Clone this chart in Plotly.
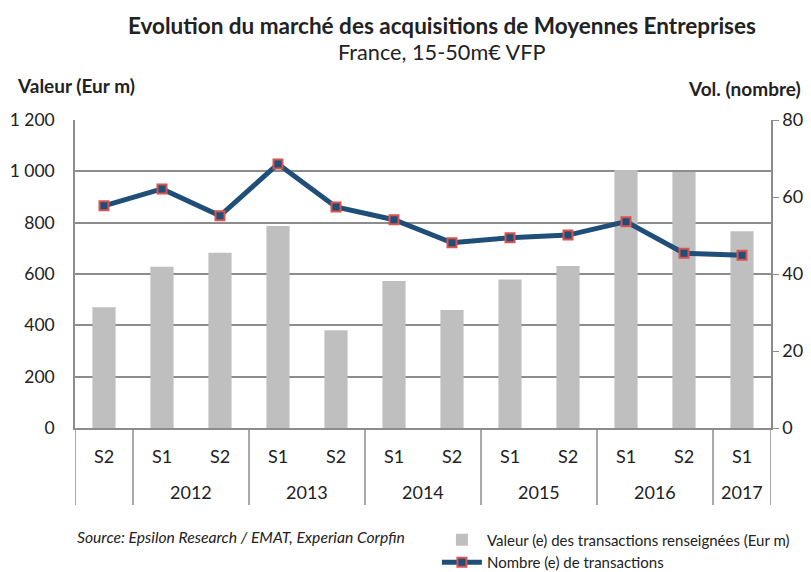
import plotly.graph_objects as go

years = ["", "2012", "2012", "2013", "2013", "2014", "2014", "2015", "2015", "2016", "2016", "2017"]
semesters = ["S2", "S1", "S2", "S1", "S2", "S1", "S2", "S1", "S2", "S1", "S2", "S1"]
valeur = [470, 628, 683, 787, 381, 573, 460, 579, 631, 1005, 997, 767]
nombre = [57.7, 62.1, 55.1, 68.6, 57.4, 54.1, 48.1, 49.4, 50.1, 53.6, 45.4, 44.9]

FONT = "Lato, Calibri, sans-serif"
TXT = "#222"
GRID = "#8c8c8c"
xs = list(range(len(semesters)))

# consecutive runs of the same year -> group label + dividers
groups = []
for i, yr in enumerate(years):
    if groups and groups[-1][0] == yr:
        groups[-1][2] = i
    else:
        groups.append([yr, i, i])

fig = go.Figure()
fig.add_trace(go.Bar(
    x=xs, y=valeur,
    name="Valeur (e) des transactions renseignées (Eur m)",
    marker=dict(color="#BFBFBF", line=dict(width=0)),
))
fig.add_trace(go.Scatter(
    x=xs, y=nombre, yaxis="y2", mode="lines+markers",
    name="Nombre (e) de transactions",
    line=dict(color="#1F4E79", width=5),
    marker=dict(symbol="square", size=9, color="#1F4E79",
                line=dict(color="#D9534F", width=2)),
))

fig.update_layout(
    width=803, height=564,
    margin=dict(l=67, r=40, t=112, b=144),
    paper_bgcolor="white", plot_bgcolor="white",
    font=dict(family=FONT, size=16, color=TXT),
    separators=", ",
    bargap=0.6,
    showlegend=True,
    legend=dict(x=0.52, xanchor="left", yref="container", y=0.086, yanchor="top",
                font=dict(size=15, color=TXT), tracegroupgap=0, itemwidth=40,
                bgcolor="rgba(0,0,0,0)"),
    xaxis=dict(
        range=[-0.5, len(xs) - 0.5], tickvals=xs, ticktext=semesters,
        automargin=False, showline=True, linecolor=GRID, linewidth=1.5,
        ticks="", showgrid=False, zeroline=False, ticklabelstandoff=12,
        tickfont=dict(size=18, color=TXT),
    ),
    yaxis=dict(
        range=[0, 1200], dtick=200, tickformat=",d", automargin=False,
        showgrid=True, gridcolor=GRID, gridwidth=1.5,
        showline=True, linecolor=GRID, linewidth=1.5,
        ticks="", ticklabelstandoff=15, zeroline=False,
        tickfont=dict(size=17.5, color=TXT),
    ),
    yaxis2=dict(
        range=[0, 80], dtick=20, overlaying="y", side="right", automargin=False,
        showgrid=False, zeroline=False,
        showline=True, linecolor=GRID, linewidth=1.5,
        ticks="outside", ticklen=6, tickcolor=GRID,
        tickfont=dict(size=18, color=TXT),
    ),
)

# year labels and group dividers under the axis
for yr, a, b in groups:
    if yr:
        fig.add_annotation(text=yr, xref="x", yref="paper", x=(a + b) / 2, y=-0.208,
                           yanchor="middle", showarrow=False, font=dict(size=18, color=TXT))
    fig.add_shape(type="line", xref="x", yref="paper", x0=a - 0.5, x1=a - 0.5, y0=0, y1=-0.25,
                  line=dict(color=GRID, width=1.5))
fig.add_shape(type="line", xref="x", yref="paper", x0=len(xs) - 0.5, x1=len(xs) - 0.5,
              y0=0, y1=-0.25, line=dict(color=GRID, width=1.5))

fig.add_annotation(text="<b>Evolution du marché des acquisitions de Moyennes Entreprises</b>",
                   xref="paper", yref="paper", x=0.527, y=1.0, yshift=95, yanchor="middle",
                   showarrow=False, font=dict(size=22.5, color=TXT))
fig.add_annotation(text="France, 15-50m€ VFP", xref="paper", yref="paper",
                   x=0.527, y=1.0, yshift=68, yanchor="middle",
                   showarrow=False, font=dict(size=21.7, color=TXT))
fig.add_annotation(text="<b>Valeur (Eur m)</b>", xref="paper", yref="paper",
                   x=0, xshift=-60, xanchor="left", y=1.0, yshift=35, yanchor="middle",
                   showarrow=False, font=dict(size=19, color=TXT))
fig.add_annotation(text="<b>Vol. (nombre)</b>", xref="paper", yref="paper",
                   x=1, xshift=32, xanchor="right", y=1.0, yshift=32, yanchor="middle",
                   showarrow=False, font=dict(size=19, color=TXT))
fig.add_annotation(text="<i>Source: Epsilon Research / EMAT, Experian Corpfin</i>",
                   xref="paper", yref="paper", x=0, xanchor="left", y=-0.354, yanchor="middle",
                   showarrow=False, font=dict(size=15.7, color=TXT))

fig.write_html("out.html")
